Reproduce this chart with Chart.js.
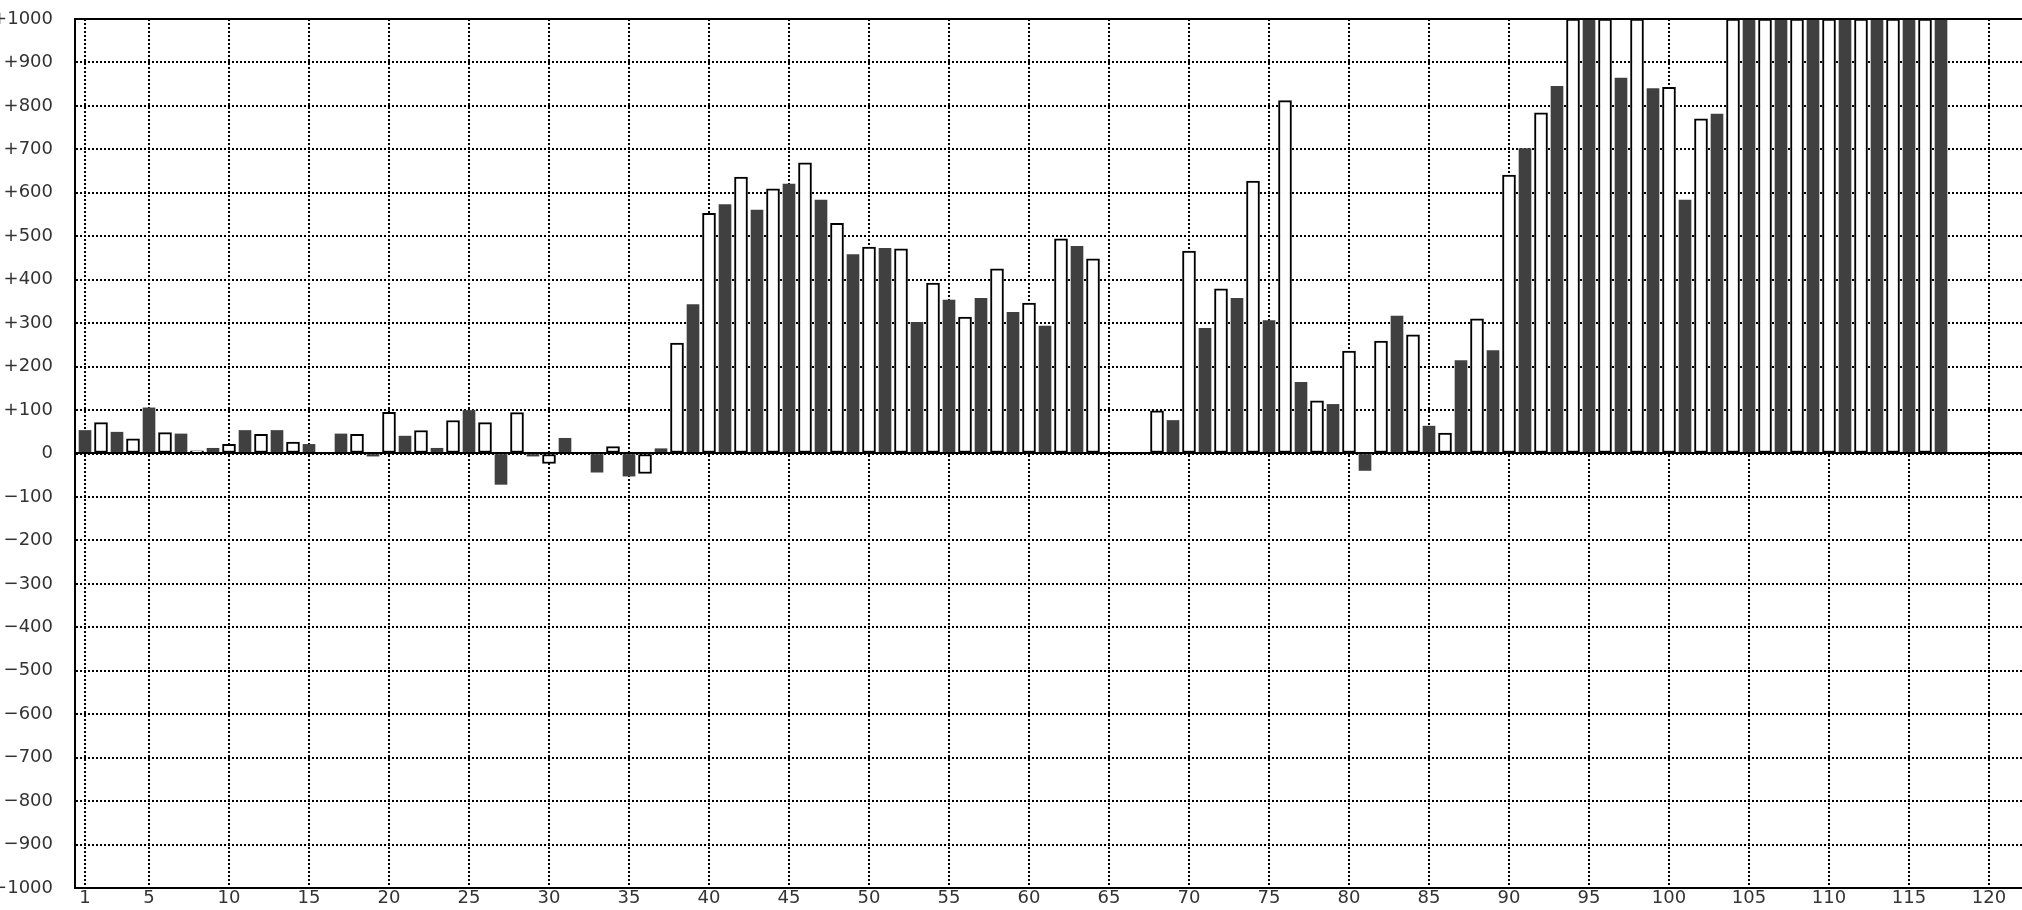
<!DOCTYPE html>
<html>
<head>
<meta charset="utf-8">
<script src="https://cdn.jsdelivr.net/npm/chart.js@4/dist/chart.umd.min.js"></script>
<style>
  html, body { margin: 0; padding: 0; background: #fff; }
  canvas { display: block; }
</style>
</head>
<body>
<canvas id="chart" width="2022" height="910"></canvas>
<script>
// odd days are drawn dark, even days light
const darkDays = [1, 3, 5, 7, 9, 11, 13, 15, 17, 19, 21, 23, 25, 27, 29, 31, 33, 35, 37, 39,
    41, 43, 45, 47, 49, 51, 53, 55, 57, 59, 61, 63, 65, 67, 69, 71, 73, 75, 77, 79,
    81, 83, 85, 87, 89, 91, 93, 95, 97, 99, 101, 103, 105, 107, 109, 111, 113, 115, 117];
const darkValues = [53, 49, 105, 45, 12, 53, 53, 21, 45, -6, 40, 12, 99, -71, -6, 35, -43, -52, 11, 343,
    573, 560, 620, 583, 458, 472, 302, 353, 357, 325, 293, 477, null, null, 76, 288, 357, 306, 164, 113,
    -39, 316, 63, 214, 237, 702, 845, 1000, 864, 840, 583, 781, 1000, 1000, 1000, 1000, 1000, 1000, 1000];

const lightDays = [2, 4, 6, 8, 10, 12, 14, 16, 18, 20, 22, 24, 26, 28, 30, 32, 34, 36, 38, 40,
    42, 44, 46, 48, 50, 52, 54, 56, 58, 60, 62, 64, 66, 68, 70, 72, 74, 76, 78, 80,
    82, 84, 86, 88, 90, 92, 94, 96, 98, 100, 102, 104, 106, 108, 110, 112, 114, 116];
const lightValues = [71, 34, 48, 6, 21, 44, 26, null, 44, 95, 53, 76, 71, 94, -23, null, 16, -46, 254, 553,
    636, 609, 669, 530, 475, 471, 392, 314, 425, 346, 494, 448, null, 98, 466, 379, 627, 812, 121, 236,
    259, 273, 47, 310, 641, 784, 1000, 1000, 1000, 843, 770, 1000, 1000, 1000, 1000, 1000, 1000, 1000];

const xTicks = [1, 5, 10, 15, 20, 25, 30, 35, 40, 45, 50, 55, 60, 65, 70, 75, 80, 85, 90, 95,
    100, 105, 110, 115, 120];

const tickFont = { family: 'DejaVu Sans', size: 18 };
const tickColor = '#333';

function signed(v) {
    if (v > 0) return '+' + v;
    if (v < 0) return '\u2212' + (-v);
    return '0';
}

// solid top frame and zero line over the bars
const framePlugin = {
    id: 'frame',
    afterDatasetsDraw(chart) {
        const { ctx, chartArea, scales } = chart;
        const zero = Math.floor(scales.y.getPixelForValue(0));
        ctx.save();
        ctx.strokeStyle = '#000';
        ctx.lineWidth = 2;
        ctx.beginPath();
        ctx.moveTo(chartArea.left, chartArea.top);
        ctx.lineTo(chartArea.right, chartArea.top);
        ctx.moveTo(chartArea.left, zero);
        ctx.lineTo(chartArea.right, zero);
        ctx.stroke();
        ctx.restore();
    }
};

const ctx = document.getElementById('chart').getContext('2d');
new Chart(ctx, {
    type: 'bar',
    data: {
        datasets: [{
            label: 'odd',
            data: darkDays.map((d, i) => ({ x: d, y: darkValues[i] })),
            backgroundColor: '#404040',
            borderWidth: 0,
            barThickness: 12,
            grouped: false
        }, {
            label: 'even',
            data: lightDays.map((d, i) => ({ x: d, y: lightValues[i] })),
            backgroundColor: '#ffffff',
            borderColor: '#000000',
            borderWidth: 2,
            borderSkipped: false,
            barThickness: 13,
            grouped: false
        }]
    },
    options: {
        responsive: false,
        devicePixelRatio: 1,
        animation: false,
        layout: {
            padding: { top: 19, left: 0, right: 0, bottom: 0 }
        },
        scales: {
            x: {
                type: 'linear',
                min: 0.375,
                max: 122.0625,
                offset: false,
                afterBuildTicks: s => { s.ticks = xTicks.map(v => ({ value: v })); },
                afterFit: s => {
                    s.height = 22;
                    s.paddingLeft = 0;
                    s.paddingRight = 0;
                },
                ticks: {
                    autoSkip: false,
                    maxRotation: 0,
                    padding: 0,
                    color: tickColor,
                    font: tickFont
                },
                grid: {
                    offset: false,
                    color: '#000',
                    lineWidth: 2,
                    drawTicks: false
                },
                border: {
                    color: '#000',
                    width: 2,
                    dash: [2, 2]
                }
            },
            y: {
                min: -1000,
                max: 1000,
                afterFit: s => {
                    s.width = 75;
                    s.paddingTop = 0;
                    s.paddingBottom = 0;
                },
                ticks: {
                    stepSize: 100,
                    padding: 22,
                    color: tickColor,
                    font: tickFont,
                    callback: v => signed(v)
                },
                grid: {
                    color: '#000',
                    lineWidth: 2,
                    drawTicks: false
                },
                border: {
                    color: '#000',
                    width: 2,
                    dash: [2, 2]
                }
            }
        },
        plugins: {
            legend: { display: false },
            tooltip: { enabled: false }
        }
    },
    plugins: [framePlugin]
});
</script>
</body>
</html>
